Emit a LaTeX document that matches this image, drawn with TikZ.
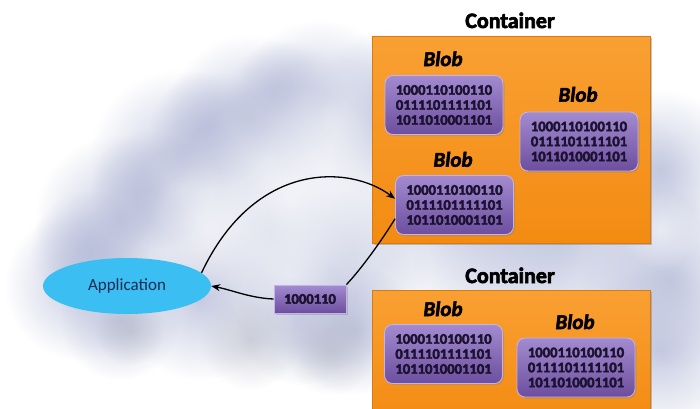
\documentclass[tikz,border=0pt]{standalone}
\usepackage{fontspec}
\setmainfont{Carlito}
\newfontfamily\heavyfont[BoldFeatures={FakeBold=3}, BoldItalicFeatures={FakeBold=2.5}]{Carlito}
\usetikzlibrary{arrows.meta,shadows,fadings,shapes.geometric}

\definecolor{orangetop}{HTML}{F9A033}
\definecolor{orangebot}{HTML}{F38B12}
\definecolor{orangeedge}{HTML}{D97A10}
\definecolor{blobtop}{HTML}{A38BD0}
\definecolor{blobbot}{HTML}{6C4E9E}
\definecolor{blobedge}{HTML}{C4B3E8}
\definecolor{bitink}{HTML}{1B1230}
\definecolor{appfill}{HTML}{3BBEF2}
\definecolor{appink}{HTML}{1E2A52}
\definecolor{cloudshade}{HTML}{B2B8D7}
\definecolor{cloudgrey}{HTML}{B8BAC8}

% soft round puff used to build the cloud
\tikzfading[name=puff, inner color=transparent!0, outer color=transparent!100]

\tikzset{
  containerbox/.style={draw=orangeedge, line width=0.6pt, top color=orangetop, bottom color=orangebot,
    drop shadow={shadow xshift=2pt, shadow yshift=-2pt, opacity=0.45}},
  containertitle/.style={font=\fontsize{22}{24}\selectfont\heavyfont\bfseries, text=black, anchor=base, inner sep=0pt},
  blobbox/.style={draw=blobedge, line width=0.9pt, rounded corners=8pt, top color=blobtop, bottom color=blobbot,
    minimum width=118pt, minimum height=59pt, inner sep=0pt, align=center,
    font=\fontsize{14.6}{15}\selectfont\heavyfont\bfseries, text=bitink,
    drop shadow={shadow xshift=1.5pt, shadow yshift=-1.5pt, opacity=0.35}},
  bloblabel/.style={font=\fontsize{21}{23}\selectfont\heavyfont\bfseries\itshape, text=black, anchor=base, inner sep=0pt},
  chunkbox/.style={draw=blobedge, line width=0.8pt, top color=blobtop, bottom color=blobbot,
    minimum width=72pt, minimum height=28pt, inner sep=0pt,
    font=\fontsize{14.6}{15}\selectfont\heavyfont\bfseries, text=bitink,
    drop shadow={shadow xshift=1.5pt, shadow yshift=-1.5pt, opacity=0.35}},
  appnode/.style={ellipse, fill=appfill, minimum width=168pt, minimum height=56pt, inner sep=0pt,
    font=\fontsize{17}{20}\selectfont, text=appink},
  flow/.style={line width=1.3pt, black},
  flowtip/.style={-{Stealth[length=9pt,width=7pt]}},
}

\newcommand{\bits}{1000110100110\\0111101111101\\1011010001101}

\begin{document}
\begin{tikzpicture}[x=1pt,y=-1pt]
\clip (0,0) rectangle (700,408);
\fill[white] (0,0) rectangle (700,408);

% cloud body
\foreach \cx/\cy/\r in {
  80/285/75, 120/220/85, 180/160/90, 250/120/85, 320/105/85, 390/115/85,
  90/250/60, 150/190/60, 210/130/60, 285/100/60,
  270/230/105, 330/270/100, 200/300/80, 120/320/60, 300/320/65, 355/330/65,
  470/180/140, 560/230/150, 660/170/80, 670/280/90, 660/350/85}
  \fill[cloudshade, path fading=puff, fill opacity=0.72] (\cx,\cy) circle (\r pt);
\foreach \cx/\cy/\r in {250/340/50, 330/350/45, 130/330/35}
  \fill[cloudgrey, path fading=puff, fill opacity=0.6] (\cx,\cy) circle (\r pt);
% brighter billows inside the cloud
\foreach \cx/\cy/\r/\o in {
  290/200/115/0.7, 330/120/65/0.45, 210/230/65/0.45, 290/275/70/0.45,
  180/190/45/0.3, 660/230/40/0.5}
  \fill[white, path fading=puff, fill opacity=\o] (\cx,\cy) circle (\r pt);

% containers
\draw[containerbox] (372,36) rectangle (650,243);
\draw[containerbox] (372,290) rectangle (650,420);
\node[containertitle] (t1) at (510,28) {Container};
\node[containertitle] (t2) at (510,283) {Container};

% blobs in the upper container
\node[blobbox] (b1) at (444,105) {\bits};
\node[blobbox] (b2) at (579,141.5) {\bits};
\node[blobbox] (b3) at (454.5,205) {\bits};
\node[bloblabel] (l1) at (443,66) {Blob};
\node[bloblabel] (l2) at (578,101.7) {Blob};
\node[bloblabel] (l3) at (453,166.7) {Blob};

% blobs in the lower container
\node[blobbox] (b4) at (443.5,354) {\bits};
\node[blobbox] (b5) at (576,367.5) {\bits};
\node[bloblabel] (l4) at (443,316) {Blob};
\node[bloblabel] (l5) at (575,329) {Blob};

% client and a chunk of data in transit
\node[appnode] (app) at (127,286) {Application};
\node[chunkbox] (sb) at (310,299) {1000110};

% upload and download paths
\draw[flow, flowtip] (app.10) .. controls (255,160) and (350,165) .. (b3.174);
\draw[flow] (b3.193) .. controls (382,240) and (362,268) .. (sb.north east);
\draw[flow, flowtip] (sb.west) .. controls (250,298) and (232,290) .. (app.east);
\end{tikzpicture}
\end{document}
